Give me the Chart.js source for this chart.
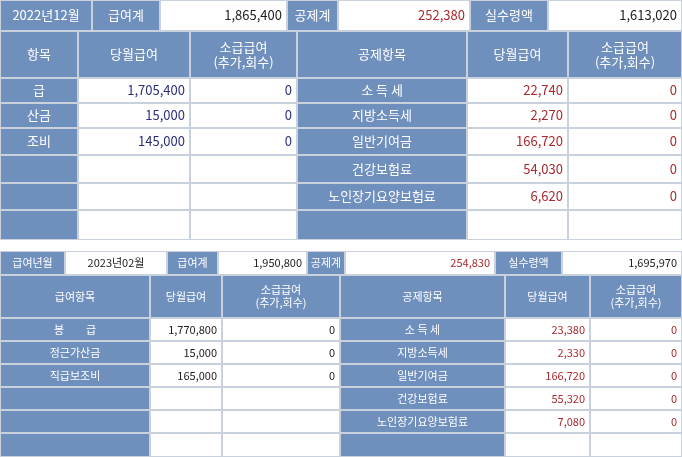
<!DOCTYPE html><html><head><meta charset="utf-8">
<script src="https://cdn.jsdelivr.net/npm/chart.js@4"></script>
<style>body{margin:0;background:#fff}canvas{display:block}</style></head><body>
<canvas id="c" width="682" height="457"></canvas>
<script>
const colHeaders=["당월급여","소급급여\n(추가,회수)","공제항목","당월급여","소급급여\n(추가,회수)"];
const topSummary=["2022년12월","급여계","1,865,400","공제계","252,380","실수령액","1,613,020"];
const topPayItems=["급","산금","조비","","",""];
const topPayAmounts=["1,705,400","15,000","145,000","","",""];
const topPayRetro=["0","0","0","","",""];
const dedItems=["소 득 세","지방소득세","일반기여금","건강보험료","노인장기요양보험료",""];
const topDedAmounts=["22,740","2,270","166,720","54,030","6,620",""];
const topDedRetro=["0","0","0","0","0",""];
const botSummary=["급여년월","2023년02월","급여계","1,950,800","공제계","254,830","실수령액","1,695,970"];
const botPayItems=["봉　　급","정근가산금","직급보조비","","",""];
const botPayAmounts=["1,770,800","15,000","165,000","","",""];
const botPayRetro=["0","0","0","","",""];
const botDedAmounts=["23,380","2,330","166,720","55,320","7,080",""];
const botDedRetro=["0","0","0","0","0",""];

const BLUE="#6f8fbd",GRID="#c9d1dd",PAY="#2b2f7a",RED="#a82a2e",DARK="#222";
const plugin={id:'table',afterDraw(ch){
 const c=ch.ctx,X=v=>ch.scales.x.getPixelForValue(v),Y=v=>ch.scales.y.getPixelForValue(v);
 function cell(x0,y0,x1,y1,fill,text,color,align,size,bold){
  const a=X(x0),b=Y(y0),w=X(x1)-a,h=Y(y1)-b;
  c.fillStyle=fill;c.fillRect(a,b,w,h);
  c.strokeStyle=GRID;c.lineWidth=1;c.strokeRect(a+.5,b+.5,w-1,h-1);
  if(!text)return;
  c.fillStyle=color;c.font=(bold?"bold ":"")+size+"px 'Noto Sans CJK KR', sans-serif";
  c.textBaseline="middle";c.textAlign=align;
  const lines=text.split("\n"),lh=size+2;
  const tx=align==="right"?a+w-5:align==="left"?a+5:a+w/2;
  lines.forEach((l,i)=>c.fillText(l,tx,b+h/2+(i-(lines.length-1)/2)*lh));
 }
 // top summary
 const ts=[[0,92,BLUE,"#fff","center"],[92,160,BLUE,"#fff","center"],[160,287,"#fff",DARK,"right"],[287,338,BLUE,"#fff","center"],[338,470,"#fff",RED,"right"],[470,548,BLUE,"#fff","center"],[548,682,"#fff",DARK,"right"]];
 ts.forEach((s,i)=>cell(s[0],0,s[1],31,s[2],topSummary[i],s[3],s[4],13));
 const tc=[0,78,190,297,467,568,682];
 cell(0,31,78,78,BLUE,"항목","#fff","center",13);
 for(let i=0;i<5;i++)cell(tc[i+1],31,tc[i+2],78,BLUE,colHeaders[i],"#fff","center",13);
 const tr=[78,103,128,155,183,210,240];
 for(let r=0;r<6;r++){
  const y0=tr[r],y1=tr[r+1];
  cell(tc[0],y0,tc[1],y1,BLUE,topPayItems[r],"#fff","center",13);
  cell(tc[1],y0,tc[2],y1,"#fff",topPayAmounts[r],PAY,"right",13);
  cell(tc[2],y0,tc[3],y1,"#fff",topPayRetro[r],PAY,"right",13);
  cell(tc[3],y0,tc[4],y1,BLUE,dedItems[r],"#fff","center",13);
  cell(tc[4],y0,tc[5],y1,"#fff",topDedAmounts[r],RED,"right",13);
  cell(tc[5],y0,tc[6],y1,"#fff",topDedRetro[r],RED,"right",13);
 }
 // bottom summary
 const bs=[[0,65,BLUE,"#fff","center"],[65,167,"#fff",DARK,"center"],[167,218,BLUE,"#fff","center"],[218,307,"#fff",DARK,"right"],[307,345,BLUE,"#fff","center"],[345,495,"#fff",RED,"right"],[495,562,BLUE,"#fff","center"],[562,682,"#fff",DARK,"right"]];
 bs.forEach((s,i)=>cell(s[0],251,s[1],275,s[2],botSummary[i],s[3],s[4],11));
 const bc=[0,150,222,340,505,590,682];
 cell(0,275,150,318,BLUE,"급여항목","#fff","center",11);
 for(let i=0;i<5;i++)cell(bc[i+1],275,bc[i+2],318,BLUE,colHeaders[i],"#fff","center",11);
 const br=[318,341,364,387,410,433,457];
 for(let r=0;r<6;r++){
  const y0=br[r],y1=br[r+1];
  cell(bc[0],y0,bc[1],y1,BLUE,botPayItems[r],"#fff","center",11);
  cell(bc[1],y0,bc[2],y1,"#fff",botPayAmounts[r],DARK,"right",11);
  cell(bc[2],y0,bc[3],y1,"#fff",botPayRetro[r],DARK,"right",11);
  cell(bc[3],y0,bc[4],y1,BLUE,dedItems[r],"#fff","center",11);
  cell(bc[4],y0,bc[5],y1,"#fff",botDedAmounts[r],RED,"right",11);
  cell(bc[5],y0,bc[6],y1,"#fff",botDedRetro[r],RED,"right",11);
 }
}};
new Chart(document.getElementById('c'),{type:'scatter',data:{datasets:[{data:[]}]},
 options:{responsive:false,animation:false,layout:{padding:0},
 plugins:{legend:{display:false},tooltip:{enabled:false}},
 scales:{x:{type:'linear',min:0,max:682,display:false},y:{type:'linear',min:0,max:457,reverse:true,display:false}}},
 plugins:[plugin]});
</script></body></html>
